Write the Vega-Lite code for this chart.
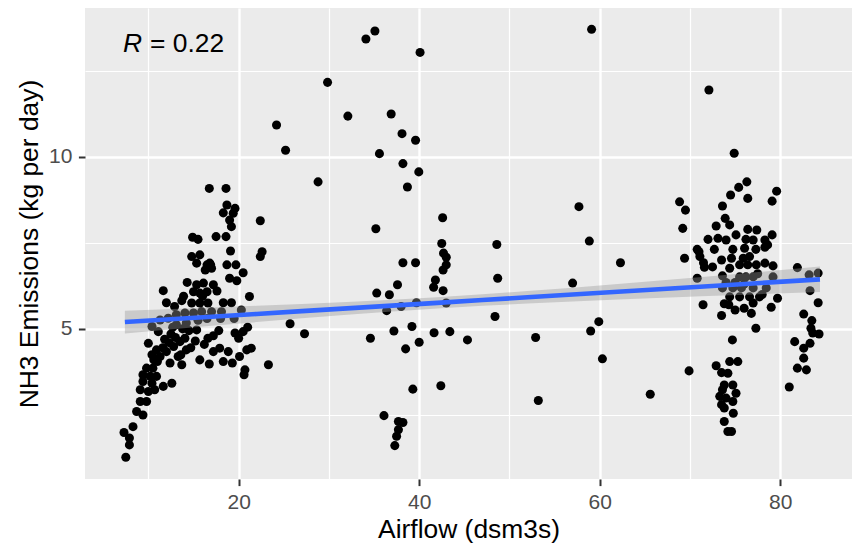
{
  "$schema": "https://vega.github.io/schema/vega-lite/v6.json",
  "width": 767,
  "height": 471,
  "autosize": {"type": "none"},
  "padding": {"left": 85, "top": 8, "right": 1, "bottom": 67},
  "background": "white",
  "config": {"view": {"fill": "#EBEBEB", "stroke": null}, "font": "Liberation Sans"},
  "datasets": {
    "pts": [
      {"airflow":24.2,"nh3":10.92},{"airflow":25.2,"nh3":10.19},{"airflow":16.75,"nh3":9.08},{"airflow":18.6,"nh3":9.08},
      {"airflow":18.7,"nh3":8.6},{"airflow":19.6,"nh3":8.5},{"airflow":18.3,"nh3":8.37},{"airflow":19.4,"nh3":8.36},
      {"airflow":19.0,"nh3":8.16},{"airflow":19.2,"nh3":7.97},{"airflow":22.4,"nh3":8.14},{"airflow":14.9,"nh3":7.66},
      {"airflow":15.5,"nh3":7.6},{"airflow":17.5,"nh3":7.68},{"airflow":18.6,"nh3":7.68},{"airflow":14.8,"nh3":7.1},
      {"airflow":15.7,"nh3":7.15},{"airflow":16.5,"nh3":6.86},{"airflow":16.9,"nh3":6.86},{"airflow":16.3,"nh3":6.71},
      {"airflow":17.0,"nh3":6.76},{"airflow":18.7,"nh3":6.86},{"airflow":19.7,"nh3":6.86},{"airflow":20.5,"nh3":6.63},
      {"airflow":19.0,"nh3":6.47},{"airflow":19.8,"nh3":6.4},{"airflow":15.35,"nh3":6.28},{"airflow":16.1,"nh3":6.33},
      {"airflow":17.2,"nh3":6.28},{"airflow":15.0,"nh3":6.08},{"airflow":15.7,"nh3":6.04},{"airflow":16.5,"nh3":6.08},
      {"airflow":11.65,"nh3":6.11},{"airflow":12.0,"nh3":5.76},{"airflow":13.7,"nh3":5.82},{"airflow":14.8,"nh3":5.75},
      {"airflow":15.7,"nh3":5.75},{"airflow":16.6,"nh3":5.75},{"airflow":18.3,"nh3":5.76},{"airflow":19.2,"nh3":5.76},
      {"airflow":21.2,"nh3":5.94},{"airflow":22.4,"nh3":7.1},{"airflow":22.6,"nh3":7.24},{"airflow":19.1,"nh3":7.26},
      {"airflow":15.35,"nh3":6.91},{"airflow":16.8,"nh3":6.91},{"airflow":10.4,"nh3":5.07},{"airflow":11.3,"nh3":5.26},
      {"airflow":12.2,"nh3":5.31},{"airflow":13.1,"nh3":5.41},{"airflow":14.05,"nh3":5.46},{"airflow":15.0,"nh3":5.46},
      {"airflow":15.9,"nh3":5.5},{"airflow":17.0,"nh3":5.5},{"airflow":18.1,"nh3":5.5},{"airflow":13.1,"nh3":5.12},
      {"airflow":14.2,"nh3":5.17},{"airflow":15.35,"nh3":4.97},{"airflow":11.1,"nh3":4.92},{"airflow":25.7,"nh3":5.15},
      {"airflow":23.3,"nh3":3.96},{"airflow":19.6,"nh3":4.88},{"airflow":20.5,"nh3":4.92},{"airflow":20.0,"nh3":4.73},
      {"airflow":10.0,"nh3":4.58},{"airflow":10.9,"nh3":4.39},{"airflow":10.4,"nh3":4.25},{"airflow":11.3,"nh3":4.2},
      {"airflow":12.0,"nh3":4.34},{"airflow":12.8,"nh3":4.49},{"airflow":13.5,"nh3":4.63},{"airflow":14.05,"nh3":4.73},
      {"airflow":14.2,"nh3":4.39},{"airflow":13.3,"nh3":4.2},{"airflow":13.7,"nh3":3.96},{"airflow":12.4,"nh3":4.01},
      {"airflow":15.7,"nh3":4.1},{"airflow":16.75,"nh3":3.98},{"airflow":16.6,"nh3":4.73},{"airflow":17.2,"nh3":4.8},
      {"airflow":17.2,"nh3":4.34},{"airflow":17.9,"nh3":4.44},{"airflow":18.85,"nh3":4.34},{"airflow":18.3,"nh3":4.05},
      {"airflow":19.3,"nh3":4.01},{"airflow":20.1,"nh3":4.2},{"airflow":20.9,"nh3":4.39},{"airflow":21.4,"nh3":4.44},
      {"airflow":20.7,"nh3":3.81},{"airflow":20.6,"nh3":3.67},{"airflow":9.8,"nh3":3.86},{"airflow":10.5,"nh3":3.86},
      {"airflow":9.4,"nh3":3.67},{"airflow":10.2,"nh3":3.62},{"airflow":10.9,"nh3":3.62},{"airflow":9.4,"nh3":3.47},
      {"airflow":10.4,"nh3":3.42},{"airflow":12.6,"nh3":3.42},{"airflow":11.65,"nh3":3.33},{"airflow":9.1,"nh3":3.23},
      {"airflow":10.0,"nh3":3.18},{"airflow":10.7,"nh3":3.23},{"airflow":9.1,"nh3":2.89},{"airflow":9.8,"nh3":2.89},
      {"airflow":8.7,"nh3":2.6},{"airflow":9.4,"nh3":2.5},{"airflow":8.3,"nh3":2.16},{"airflow":7.3,"nh3":1.99},
      {"airflow":7.9,"nh3":1.83},{"airflow":7.9,"nh3":1.63},{"airflow":7.5,"nh3":1.27},
      {"airflow":11.8,"nh3":4.7},{"airflow":12.5,"nh3":4.85},{"airflow":13.8,"nh3":5.0},{"airflow":11.0,"nh3":4.05},
      {"airflow":12.3,"nh3":4.6},{"airflow":13.0,"nh3":4.75},{"airflow":14.5,"nh3":4.95},{"airflow":15.5,"nh3":5.25},
      {"airflow":16.5,"nh3":5.3},{"airflow":12.7,"nh3":5.05},{"airflow":11.6,"nh3":4.45},{"airflow":10.6,"nh3":4.1},
      {"airflow":12.9,"nh3":5.65},{"airflow":14.3,"nh3":6.35},{"airflow":13.9,"nh3":5.95},{"airflow":16.0,"nh3":5.95},
      {"airflow":17.6,"nh3":6.1},{"airflow":18.0,"nh3":5.3},{"airflow":19.5,"nh3":5.3},{"airflow":21.0,"nh3":5.05},
      {"airflow":20.3,"nh3":5.55},{"airflow":16.2,"nh3":4.55},{"airflow":17.8,"nh3":4.95},{"airflow":15.2,"nh3":4.65},
      {"airflow":14.7,"nh3":4.45},{"airflow":13.6,"nh3":4.25},
      {"airflow":29.85,"nh3":12.16},{"airflow":32.1,"nh3":11.18},{"airflow":35.1,"nh3":13.65},{"airflow":34.1,"nh3":13.42},
      {"airflow":40.1,"nh3":13.03},{"airflow":36.9,"nh3":11.24},{"airflow":38.1,"nh3":10.67},{"airflow":39.6,"nh3":10.48},
      {"airflow":35.6,"nh3":10.09},{"airflow":38.2,"nh3":9.8},{"airflow":39.96,"nh3":9.56},{"airflow":28.8,"nh3":9.27},
      {"airflow":38.7,"nh3":9.12},{"airflow":42.6,"nh3":8.23},{"airflow":35.2,"nh3":7.91},{"airflow":42.5,"nh3":7.48},
      {"airflow":48.6,"nh3":7.45},{"airflow":42.7,"nh3":7.2},{"airflow":43.0,"nh3":7.08},{"airflow":38.2,"nh3":6.92},
      {"airflow":39.6,"nh3":6.92},{"airflow":43.0,"nh3":6.86},{"airflow":42.65,"nh3":6.71},{"airflow":41.8,"nh3":6.42},
      {"airflow":41.6,"nh3":6.21},{"airflow":42.65,"nh3":6.11},{"airflow":48.7,"nh3":6.47},{"airflow":37.6,"nh3":6.28},
      {"airflow":35.3,"nh3":6.04},{"airflow":36.7,"nh3":5.99},{"airflow":39.7,"nh3":5.76},{"airflow":43.0,"nh3":5.75},
      {"airflow":38.0,"nh3":5.65},{"airflow":36.4,"nh3":5.53},{"airflow":27.3,"nh3":4.86},{"airflow":48.4,"nh3":5.36},
      {"airflow":34.6,"nh3":4.73},{"airflow":37.2,"nh3":4.94},{"airflow":39.2,"nh3":5.07},{"airflow":41.65,"nh3":4.89},
      {"airflow":43.4,"nh3":4.92},{"airflow":40.0,"nh3":4.61},{"airflow":38.5,"nh3":4.42},{"airflow":45.35,"nh3":4.68},
      {"airflow":52.9,"nh3":4.75},{"airflow":39.3,"nh3":3.25},{"airflow":42.4,"nh3":3.35},{"airflow":53.2,"nh3":2.92},
      {"airflow":36.1,"nh3":2.48},{"airflow":37.7,"nh3":2.31},{"airflow":38.2,"nh3":2.28},{"airflow":37.7,"nh3":2.07},
      {"airflow":37.5,"nh3":1.88},{"airflow":37.3,"nh3":1.61},{"airflow":59.1,"nh3":13.7},{"airflow":57.7,"nh3":8.55},
      {"airflow":58.85,"nh3":7.55},{"airflow":57.0,"nh3":6.33},{"airflow":62.3,"nh3":6.92},{"airflow":59.9,"nh3":5.21},
      {"airflow":59.0,"nh3":4.94},{"airflow":60.3,"nh3":4.13},{"airflow":65.6,"nh3":3.1},{"airflow":72.1,"nh3":11.94},
      {"airflow":74.9,"nh3":10.1},{"airflow":76.3,"nh3":9.27},{"airflow":75.4,"nh3":9.11},{"airflow":74.5,"nh3":8.89},
      {"airflow":76.4,"nh3":8.79},{"airflow":79.6,"nh3":9.0},{"airflow":79.1,"nh3":8.71},{"airflow":68.85,"nh3":8.69},
      {"airflow":69.5,"nh3":8.45},{"airflow":73.6,"nh3":8.57},{"airflow":73.9,"nh3":8.21},{"airflow":72.9,"nh3":7.99},
      {"airflow":74.4,"nh3":8.02},{"airflow":69.2,"nh3":7.92},{"airflow":76.4,"nh3":7.89},{"airflow":77.4,"nh3":7.87},
      {"airflow":72.0,"nh3":7.6},{"airflow":73.1,"nh3":7.63},{"airflow":74.0,"nh3":7.58},{"airflow":75.1,"nh3":7.73},
      {"airflow":76.2,"nh3":7.6},{"airflow":77.0,"nh3":7.58},{"airflow":78.3,"nh3":7.58},{"airflow":79.1,"nh3":7.73},
      {"airflow":78.6,"nh3":7.44},{"airflow":72.7,"nh3":7.31},{"airflow":74.75,"nh3":7.31},{"airflow":76.05,"nh3":7.34},
      {"airflow":77.3,"nh3":7.31},{"airflow":78.3,"nh3":7.37},{"airflow":70.8,"nh3":7.31},{"airflow":71.1,"nh3":7.1},
      {"airflow":71.5,"nh3":6.92},{"airflow":71.6,"nh3":6.79},{"airflow":69.4,"nh3":7.05},{"airflow":73.5,"nh3":7.0},
      {"airflow":74.6,"nh3":7.05},{"airflow":75.5,"nh3":6.86},{"airflow":76.4,"nh3":6.86},{"airflow":77.35,"nh3":6.86},
      {"airflow":78.3,"nh3":6.91},{"airflow":79.2,"nh3":6.83},{"airflow":74.4,"nh3":6.76},{"airflow":81.9,"nh3":6.78},
      {"airflow":73.6,"nh3":6.54},{"airflow":70.8,"nh3":6.47},{"airflow":75.5,"nh3":6.51},{"airflow":76.2,"nh3":6.51},
      {"airflow":77.0,"nh3":6.51},{"airflow":79.2,"nh3":6.51},{"airflow":83.2,"nh3":6.57},{"airflow":84.2,"nh3":6.62},
      {"airflow":73.6,"nh3":6.19},{"airflow":74.75,"nh3":6.19},{"airflow":75.7,"nh3":6.19},{"airflow":77.0,"nh3":6.19},
      {"airflow":78.45,"nh3":6.19},{"airflow":83.3,"nh3":6.11},{"airflow":74.4,"nh3":5.93},{"airflow":75.5,"nh3":5.93},
      {"airflow":76.6,"nh3":5.93},{"airflow":77.7,"nh3":5.93},{"airflow":79.7,"nh3":5.89},{"airflow":71.45,"nh3":5.7},
      {"airflow":73.8,"nh3":5.73},{"airflow":74.3,"nh3":5.7},{"airflow":79.0,"nh3":5.63},{"airflow":84.2,"nh3":5.76},
      {"airflow":73.5,"nh3":5.39},{"airflow":76.8,"nh3":5.45},{"airflow":82.6,"nh3":5.43},{"airflow":83.5,"nh3":5.24},
      {"airflow":77.3,"nh3":5.02},{"airflow":83.4,"nh3":5.02},{"airflow":83.6,"nh3":4.88},{"airflow":84.3,"nh3":4.85},
      {"airflow":81.6,"nh3":4.63},{"airflow":83.3,"nh3":4.58},{"airflow":82.6,"nh3":4.44},{"airflow":74.7,"nh3":4.68},
      {"airflow":82.6,"nh3":4.15},{"airflow":81.9,"nh3":3.86},{"airflow":82.9,"nh3":3.81},{"airflow":74.4,"nh3":4.05},
      {"airflow":75.3,"nh3":4.05},{"airflow":69.9,"nh3":3.78},{"airflow":72.9,"nh3":3.93},{"airflow":73.5,"nh3":3.73},
      {"airflow":74.2,"nh3":3.71},{"airflow":81.0,"nh3":3.31},{"airflow":73.8,"nh3":3.37},{"airflow":74.75,"nh3":3.37},
      {"airflow":73.6,"nh3":3.23},{"airflow":75.1,"nh3":3.13},{"airflow":73.3,"nh3":3.04},{"airflow":74.0,"nh3":2.99},
      {"airflow":74.75,"nh3":2.89},{"airflow":73.5,"nh3":2.8},{"airflow":73.8,"nh3":2.7},{"airflow":74.8,"nh3":2.55},
      {"airflow":73.8,"nh3":2.31},{"airflow":74.2,"nh3":2.02},{"airflow":74.6,"nh3":2.02},
      {"airflow":75.9,"nh3":7.05},{"airflow":76.6,"nh3":7.1},{"airflow":71.0,"nh3":7.24},{"airflow":72.5,"nh3":6.8},
      {"airflow":75.0,"nh3":6.35},{"airflow":76.0,"nh3":6.3},{"airflow":74.0,"nh3":6.35},{"airflow":77.5,"nh3":6.6},
      {"airflow":78.0,"nh3":6.0},{"airflow":76.0,"nh3":5.6},{"airflow":77.0,"nh3":5.75},{"airflow":75.0,"nh3":5.55}
    ],
    "fit": [
      {"airflow":7.4,"fit":5.199,"lo":4.869,"hi":5.529},
      {"airflow":12,"fit":5.273,"lo":4.974,"hi":5.572},
      {"airflow":17,"fit":5.354,"lo":5.088,"hi":5.62},
      {"airflow":22,"fit":5.434,"lo":5.198,"hi":5.67},
      {"airflow":27,"fit":5.515,"lo":5.306,"hi":5.724},
      {"airflow":32,"fit":5.595,"lo":5.408,"hi":5.782},
      {"airflow":37,"fit":5.676,"lo":5.504,"hi":5.848},
      {"airflow":42,"fit":5.756,"lo":5.591,"hi":5.921},
      {"airflow":47,"fit":5.837,"lo":5.669,"hi":6.005},
      {"airflow":52,"fit":5.917,"lo":5.737,"hi":6.097},
      {"airflow":57,"fit":5.998,"lo":5.798,"hi":6.198},
      {"airflow":62,"fit":6.078,"lo":5.853,"hi":6.303},
      {"airflow":67,"fit":6.159,"lo":5.905,"hi":6.413},
      {"airflow":72,"fit":6.239,"lo":5.954,"hi":6.524},
      {"airflow":77,"fit":6.32,"lo":6.001,"hi":6.639},
      {"airflow":84.4,"fit":6.439,"lo":6.068,"hi":6.81}
    ],
    "lab": [{"airflow": 7.19, "nh3": 13.05, "r": "R", "rest": "= 0.22"}]
  },
  "encoding": {
    "x": {
      "field": "airflow", "type": "quantitative", "title": "Airflow (dsm3s)",
      "scale": {"domain": [2.98, 87.95], "nice": false, "zero": false},
      "axis": {
        "values": [10, 20, 30, 40, 50, 60, 70, 80],
        "labelExpr": "datum.value % 20 == 0 ? datum.label : ''",
        "domain": false, "grid": true, "gridColor": "white",
        "gridWidth": {"condition": {"test": "datum.value % 20 == 0", "value": 2.4}, "value": 1.2},
        "tickColor": "#333333",
        "tickOpacity": {"condition": {"test": "datum.value % 20 == 0", "value": 1}, "value": 0},
        "tickSize": 6.6, "tickWidth": 2,
        "labelFont": "Liberation Sans", "labelFontSize": 21, "labelColor": "#4D4D4D", "labelPadding": 5.5,
        "titleFont": "Liberation Sans", "titleFontSize": 26.4, "titleColor": "black", "titleFontWeight": "normal",
        "titleX": 383.5, "titleY": 58, "titleBaseline": "alphabetic", "titleAlign": "center"
      }
    }
  },
  "layer": [
    {
      "data": {"name": "pts"},
      "mark": {"type": "circle", "color": "black", "opacity": 1, "size": 82},
      "encoding": {
        "y": {
          "field": "nh3", "type": "quantitative", "title": "NH3 Emissions (kg per day)",
          "scale": {"domain": [0.64, 14.32], "nice": false, "zero": false},
          "axis": {
            "values": [2.5, 5, 7.5, 10, 12.5],
            "labelExpr": "datum.value % 5 == 0 ? datum.label : ''",
            "domain": false, "grid": true, "gridColor": "white",
            "gridWidth": {"condition": {"test": "datum.value % 5 == 0", "value": 2.4}, "value": 1.2},
            "tickColor": "#333333",
            "tickOpacity": {"condition": {"test": "datum.value % 5 == 0", "value": 1}, "value": 0},
            "tickSize": 6.6, "tickWidth": 2,
            "labelFont": "Liberation Sans", "labelFontSize": 21, "labelColor": "#4D4D4D", "labelPadding": 6.5,
            "titleFont": "Liberation Sans", "titleFontSize": 26.4, "titleColor": "black", "titleFontWeight": "normal",
            "titleX": -48, "titleY": 235.5, "titleBaseline": "alphabetic", "titleAlign": "center", "titleAngle": -90
          }
        }
      }
    },
    {
      "data": {"name": "fit"},
      "mark": {"type": "area", "color": "#999999", "opacity": 0.4},
      "encoding": {
        "y": {"field": "lo", "type": "quantitative", "title": "NH3 Emissions (kg per day)", "scale": {"domain": [0.64, 14.32], "nice": false, "zero": false}},
        "y2": {"field": "hi"}
      }
    },
    {
      "data": {"name": "fit"},
      "mark": {"type": "line", "color": "#3366FF", "strokeWidth": 4.6},
      "encoding": {
        "y": {"field": "fit", "type": "quantitative", "title": "NH3 Emissions (kg per day)", "scale": {"domain": [0.64, 14.32], "nice": false, "zero": false}}
      }
    },
    {
      "data": {"name": "lab"},
      "mark": {"type": "text", "align": "left", "baseline": "alphabetic", "fontSize": 26.4, "fontStyle": "italic", "font": "Liberation Sans", "color": "black"},
      "encoding": {
        "y": {"field": "nh3", "type": "quantitative", "title": "NH3 Emissions (kg per day)", "scale": {"domain": [0.64, 14.32], "nice": false, "zero": false}},
        "text": {"field": "r"}
      }
    },
    {
      "data": {"name": "lab"},
      "mark": {"type": "text", "align": "left", "baseline": "alphabetic", "fontSize": 26.4, "font": "Liberation Sans", "color": "black", "dx": 27},
      "encoding": {
        "y": {"field": "nh3", "type": "quantitative", "title": "NH3 Emissions (kg per day)", "scale": {"domain": [0.64, 14.32], "nice": false, "zero": false}},
        "text": {"field": "rest"}
      }
    }
  ]
}
